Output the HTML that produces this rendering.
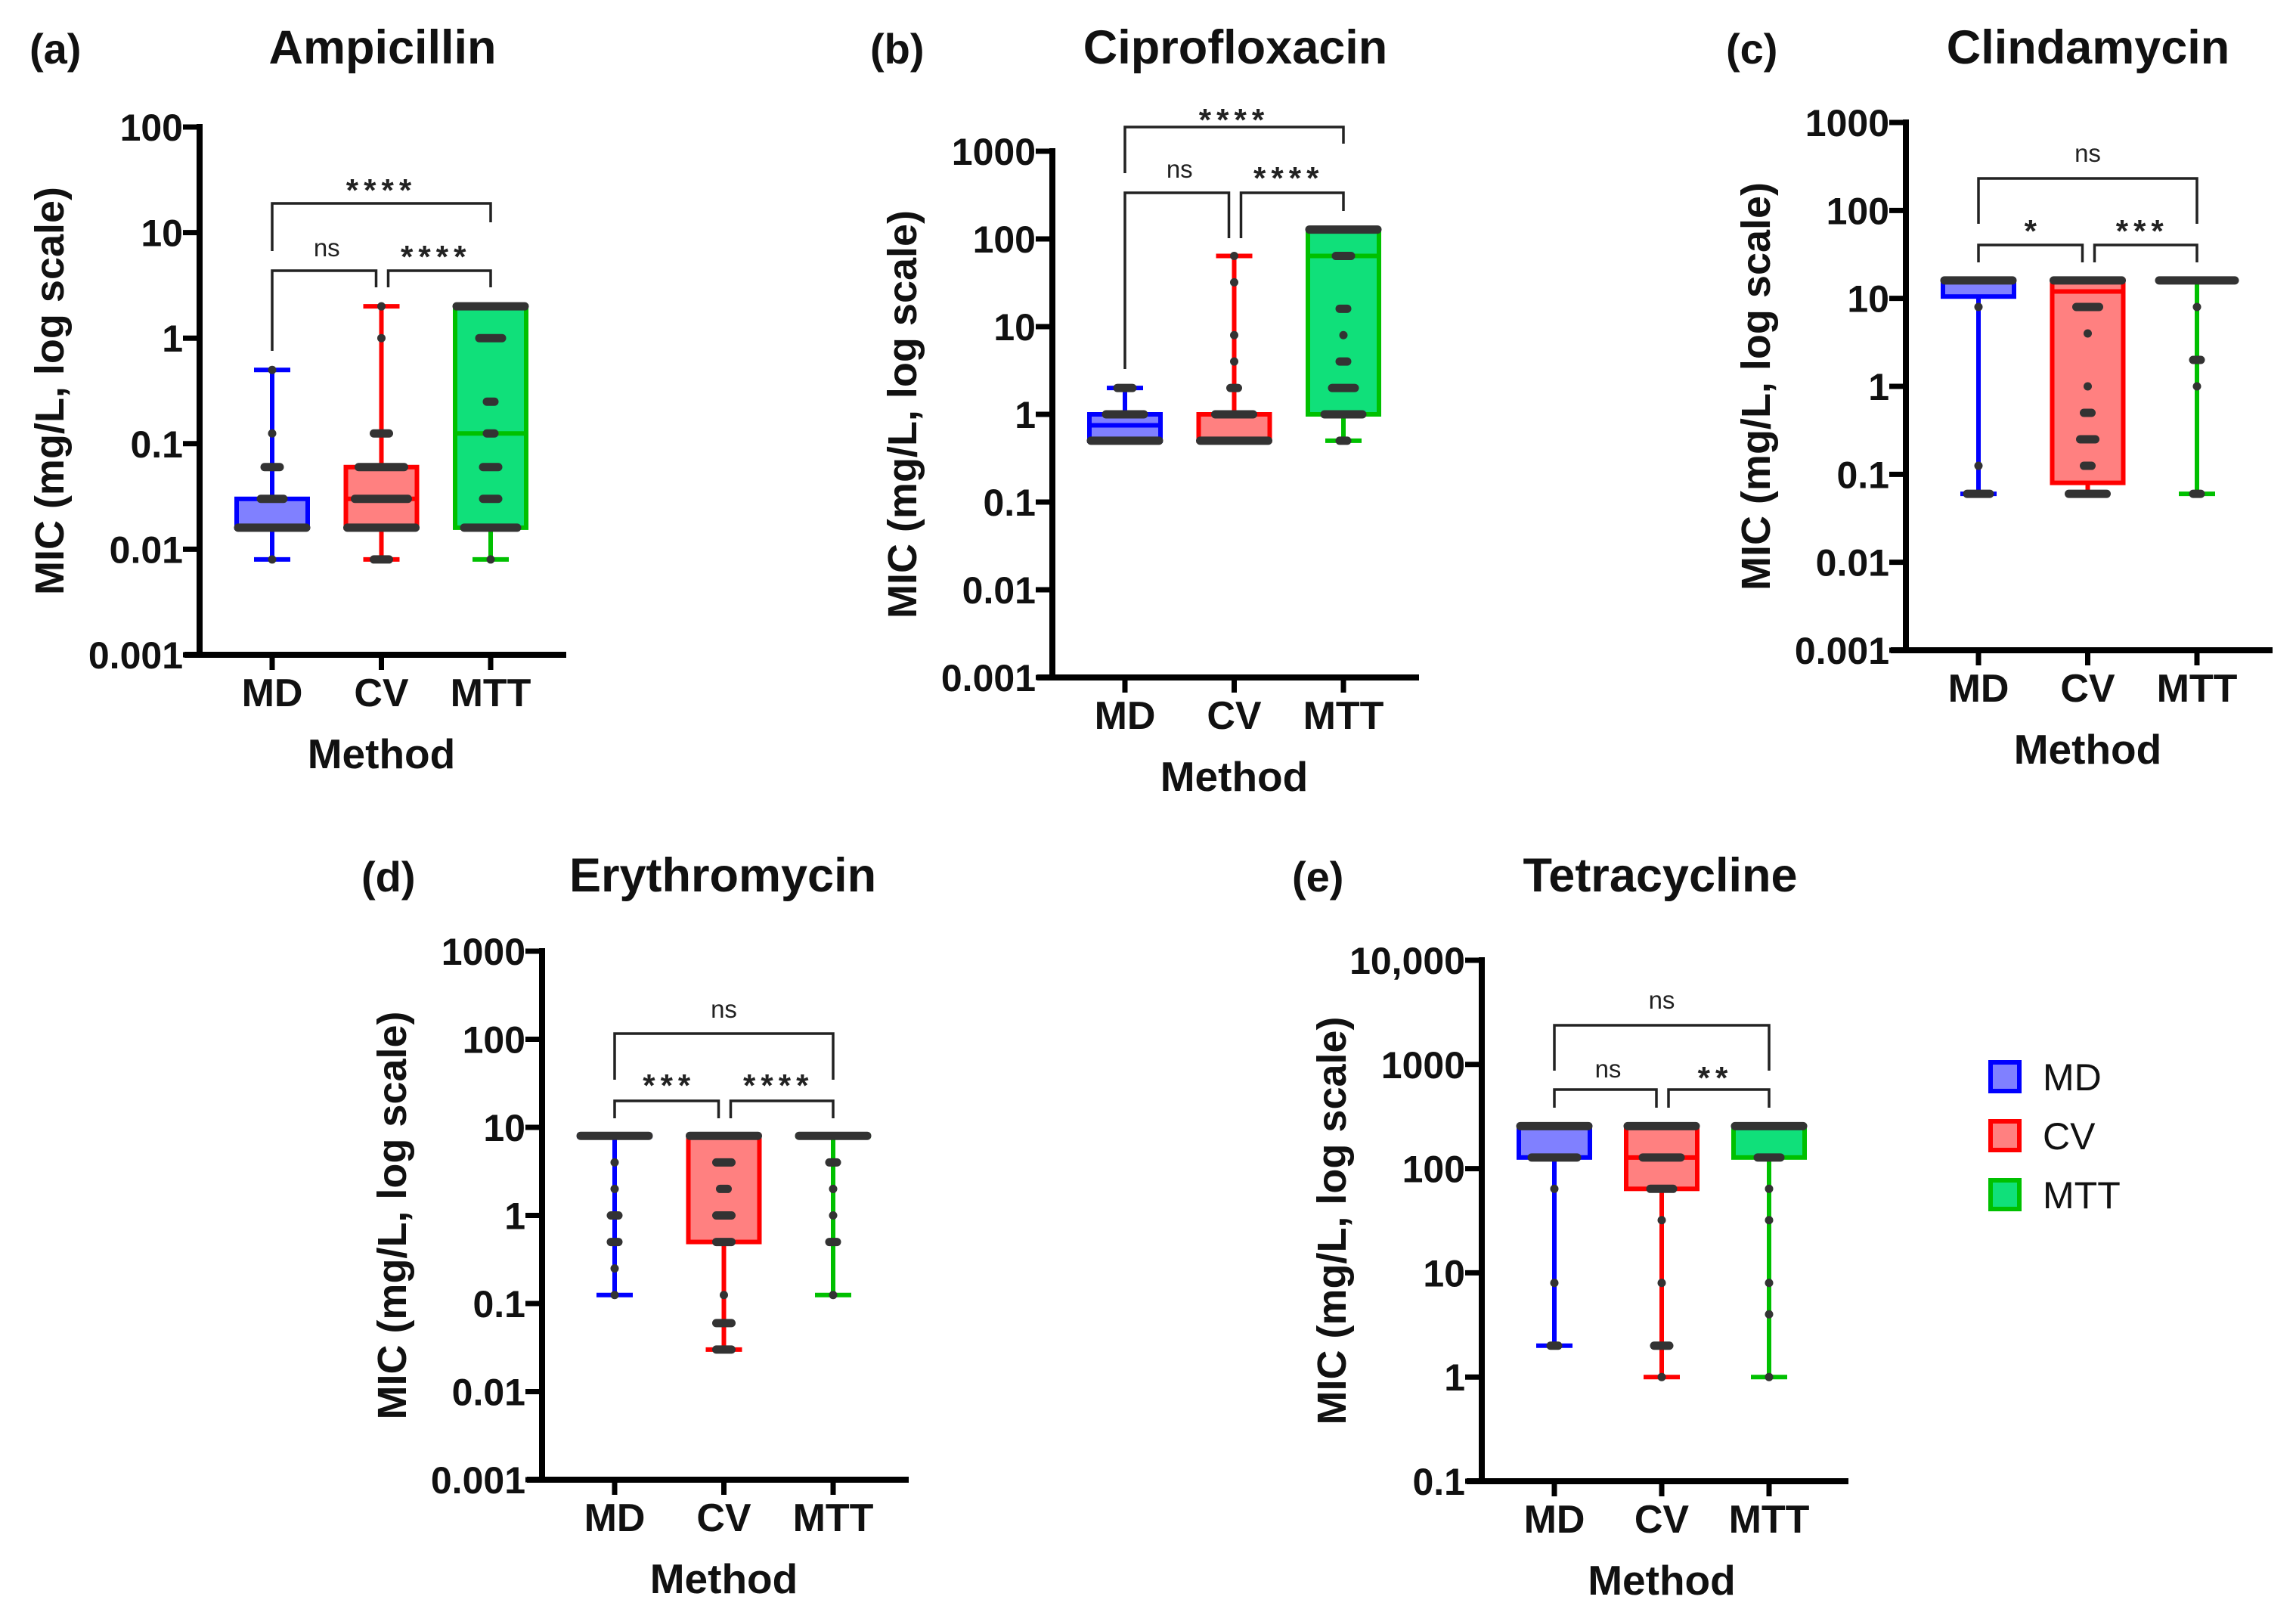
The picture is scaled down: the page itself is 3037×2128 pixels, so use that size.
<!DOCTYPE html>
<html><head><meta charset="utf-8"><title>MIC box plots</title>
<style>
html,body{margin:0;padding:0;background:#fff;}
svg{display:block;font-family:"Liberation Sans",Arial,sans-serif;}
</style></head>
<body>
<svg id="fig" xmlns="http://www.w3.org/2000/svg" width="3037" height="2128" viewBox="0 0 3037 2128"></svg>
<script>
// ---- data ----
const methods = ["MD","CV","MTT"];
const panelTitles = ["Ampicillin","Ciprofloxacin","Clindamycin","Erythromycin","Tetracycline"];
const panelLetters = ["(a)","(b)","(c)","(d)","(e)"];
const tickLabelsA = ["100","10","1","0.1","0.01","0.001"];
const tickLabelsB = ["1000","100","10","1","0.1","0.01","0.001"];
const tickLabelsE = ["10,000","1000","100","10","1","0.1"];
// box stats per method: [min, q1, median, q3, max]
const ampStats = [[0.008,0.016,0.016,0.03,0.5],[0.008,0.016,0.03,0.06,2],[0.008,0.016,0.125,2,2]];
const ciproStats = [[0.5,0.5,0.75,1,2],[0.5,0.5,0.5,1,64],[0.5,1,64,128,128]];
const clindaStats = [[0.06,10.5,16,16,16],[0.06,0.08,12,16,16],[0.06,16,16,16,16]];
const eryStats = [[0.125,8,8,8,8],[0.03,0.5,8,8,8],[0.125,8,8,8,8]];
const tetraStats = [[2,128,256,256,256],[1,64,128,256,256],[1,128,256,256,256]];
// individual points: [value, count]
const ampDots = [
  [[0.5,1],[0.125,1],[0.06,3],[0.03,4],[0.016,10],[0.008,1]],
  [[2,1],[1,1],[0.125,3],[0.06,7],[0.03,8],[0.016,10],[0.008,3]],
  [[2,10],[1,4],[0.25,2],[0.125,2],[0.06,3],[0.03,3],[0.016,8],[0.008,1]]];
const ciproDots = [
  [[2,3],[1,6],[0.5,10]],
  [[64,1],[32,1],[8,1],[4,1],[2,2],[1,6],[0.5,10]],
  [[128,10],[64,3],[16,2],[8,1],[4,2],[2,4],[1,6],[0.5,2]]];
const clindaDots = [
  [[16,10],[8,1],[0.125,1],[0.06,4]],
  [[16,10],[8,4],[4,1],[1,1],[0.5,2],[0.25,3],[0.125,2],[0.06,6]],
  [[16,11],[8,1],[2,2],[1,1],[0.06,2]]];
const eryDots = [
  [[8,10],[4,1],[2,1],[1,2],[0.5,2],[0.25,1],[0.125,1]],
  [[8,10],[4,3],[2,2],[1,3],[0.5,3],[0.125,1],[0.06,3],[0.03,3]],
  [[8,10],[4,2],[2,1],[1,1],[0.5,2],[0.125,1]]];
const tetraDots = [
  [[256,10],[128,7],[64,1],[8,1],[2,2]],
  [[256,10],[128,6],[64,4],[32,1],[8,1],[2,3],[1,1]],
  [[256,10],[128,4],[64,1],[32,1],[8,1],[4,1],[1,1]]];
const sigTop = ["****","****","ns","ns","ns"];
const sigLeft = ["ns","ns","*","***","ns"];
const sigRight = ["****","****","***","****","**"];

// ---- layout ----
const panels = [
 {ax:264,yTop:168,yBot:866,lt:2,lb:-3,ticks:tickLabelsA,stats:ampStats,dots:ampDots,letterX:39,titleX:506,titleY:84,sp:144.5,
  br:{top:269,tl:332,tr:294,tc:242,low:358,l:[464,380,380,380],lc:330}},
 {ax:1392,yTop:200,yBot:896,lt:3,lb:-3,ticks:tickLabelsB,stats:ciproStats,dots:ciproDots,letterX:1151,titleX:1634,titleY:84,sp:144.5,
  br:{top:168,tl:229,tr:190,tc:149,low:255,l:[488,315,315,279],lc:226}},
 {ax:2521,yTop:162,yBot:860,lt:3,lb:-3,ticks:tickLabelsB,stats:clindaStats,dots:clindaDots,letterX:2283,titleX:2762,titleY:84,sp:144.5,
  br:{top:236,tl:296,tr:296,tc:205,low:324,l:[347,347,347,347],lc:296}},
 {ax:717,yTop:1258,yBot:1957,lt:3,lb:-3,ticks:tickLabelsB,stats:eryStats,dots:eryDots,letterX:478,titleX:956,titleY:1179,sp:144.5,
  br:{top:1367,tl:1428,tr:1428,tc:1337,low:1456,l:[1479,1479,1479,1479],lc:1426}},
 {ax:1960,yTop:1270,yBot:1959,lt:4,lb:-1,ticks:tickLabelsE,stats:tetraStats,dots:tetraDots,letterX:1709,titleX:2196,titleY:1179,sp:142,
  br:{top:1356,tl:1416,tr:1416,tc:1325,low:1441,l:[1465,1465,1465,1465],lc:1416}}
];
const strokeCols = ["#0000ff","#ff0000","#00c000"];
const fillCols = ["#8080ff","#ff8080","#10e07a"];

const NS = "http://www.w3.org/2000/svg";
const svg = document.getElementById("fig");
function mk(tag, attrs, parent, text){
  const e = document.createElementNS(NS, tag);
  for (const k in attrs) e.setAttribute(k, attrs[k]);
  if (text !== undefined) e.textContent = text;
  (parent||svg).appendChild(e);
  return e;
}

panels.forEach((p, pi) => {
  const g = mk("g", {});
  
  
  const y = v => p.yTop + (p.lt - Math.log10(v)) * (p.yBot - p.yTop) / (p.lt - p.lb);
  const x = i => p.ax + 96 + i * p.sp;
  const xEnd = p.ax + 485;

  const lt = mk("text", {x:p.letterX, y:p.titleY, "font-size":56, "font-weight":"bold", fill:"#111"}, g, panelLetters[pi]);
  
  
  const tt = mk("text", {x:p.titleX, y:p.titleY, "font-size":63, "font-weight":"bold", "text-anchor":"middle", fill:"#111"}, g, panelTitles[pi]);
  
  

  // y-axis title
  const yc = (p.yTop + p.yBot) / 2;
  const yt = mk("text", {x:0, y:0, transform:`translate(${p.ax-180},${yc}) rotate(-90)`, "font-size":54, "font-weight":"bold", "text-anchor":"middle", fill:"#111"}, g, "MIC (mg/L, log scale)");
  
  

  // axes
  const ya = mk("line", {x1:p.ax, y1:p.yTop-4, x2:p.ax, y2:p.yBot+4, stroke:"#000", "stroke-width":8}, g);
  
  
  const xa = mk("line", {x1:p.ax-20, y1:p.yBot, x2:xEnd, y2:p.yBot, stroke:"#000", "stroke-width":8}, g);
  
  

  p.ticks.forEach((lab, ti) => {
    const v = Math.pow(10, p.lt - ti);
    const ty = y(v);
    const tm = mk("line", {x1:p.ax-22, y1:ty, x2:p.ax, y2:ty, stroke:"#000", "stroke-width":7}, g);
    
    
    const tl = mk("text", {x:p.ax-22, y:ty+18, "font-size":50, "font-weight":"bold", "text-anchor":"end", fill:"#111"}, g, lab);
    
    
  });

  methods.forEach((m, mi) => {
    const cx = x(mi);
    const tk = mk("line", {x1:cx, y1:p.yBot, x2:cx, y2:p.yBot+20, stroke:"#000", "stroke-width":7}, g);
    
    
    const cl = mk("text", {x:cx, y:p.yBot+68, "font-size":52, "font-weight":"bold", "text-anchor":"middle", fill:"#111"}, g, m);
    
    

    const s = p.stats[mi];
    const bw = 94, cw = 48;
    const bg = mk("g", {}, g);
    
    
    // whiskers
    const wl = mk("line", {x1:cx, y1:y(s[0]), x2:cx, y2:y(s[4]), stroke:strokeCols[mi], "stroke-width":6}, bg);
    
    
    [s[0], s[4]].forEach(v => {
      const cp = mk("line", {x1:cx-cw/2, y1:y(v), x2:cx+cw/2, y2:y(v), stroke:strokeCols[mi], "stroke-width":6}, bg);
      
      
    });
    const by1 = y(s[3]), by2 = y(s[1]);
    const rc = mk("rect", {x:cx-bw/2, y:by1, width:bw, height:Math.max(by2-by1,0.1), fill:fillCols[mi], stroke:strokeCols[mi], "stroke-width":6}, bg);
    
    
    const md = mk("line", {x1:cx-bw/2, y1:y(s[2]), x2:cx+bw/2, y2:y(s[2]), stroke:strokeCols[mi], "stroke-width":6}, bg);
    
    
    // dots
    p.dots[mi].forEach(d => {
      const dy = y(d[0]);
      const half = (d[1]-1) * 5;
      const dt = mk("line", {x1:cx-half, y1:dy, x2:cx+half, y2:dy, stroke:"#333", "stroke-width":11, "stroke-linecap":"round"}, bg);
      
      
    });
  });

  const xl = mk("text", {x:x(1), y:p.yBot+150, "font-size":55, "font-weight":"bold", "text-anchor":"middle", fill:"#111"}, g, "Method");
  
  

  // significance brackets
  const b = p.br;
  const sg = mk("g", {fill:"none", stroke:"#222", "stroke-width":3.5}, g);
  
  
  mk("polyline", {points:`${x(0)},${b.tl} ${x(0)},${b.top} ${x(2)},${b.top} ${x(2)},${b.tr}`}, sg);
  mk("polyline", {points:`${x(0)},${b.l[0]} ${x(0)},${b.low} ${x(1)-7},${b.low} ${x(1)-7},${b.l[1]}`}, sg);
  mk("polyline", {points:`${x(1)+9},${b.l[2]} ${x(1)+9},${b.low} ${x(2)},${b.low} ${x(2)},${b.l[3]}`}, sg);
  function sig(txt, cx, cyc){
    const star = txt.indexOf("*") >= 0;
    const t = mk("text", {x:cx, y: star ? cyc+24 : cyc+9, "font-size": star ? 42 : 33, "font-weight": star ? "bold" : "normal", "text-anchor":"middle", fill:"#222", "letter-spacing": star ? 7 : 0}, g, txt);
    
    
  }
  sig(sigTop[pi], x(1), b.tc);
  sig(sigLeft[pi], (x(0)+x(1))/2, b.lc);
  sig(sigRight[pi], (x(1)+x(2))/2, b.lc);
});

// legend
const leg = mk("g", {});


methods.forEach((m, i) => {
  const cy = 1424 + i * 78;
  const it = mk("g", {}, leg);
  
  
  mk("rect", {x:2633, y:cy-19, width:38, height:38, fill:fillCols[i], stroke:strokeCols[i], "stroke-width":6}, it);
  mk("text", {x:2702, y:cy+18, "font-size":50, fill:"#111"}, it, m);
});
</script>
</body></html>
